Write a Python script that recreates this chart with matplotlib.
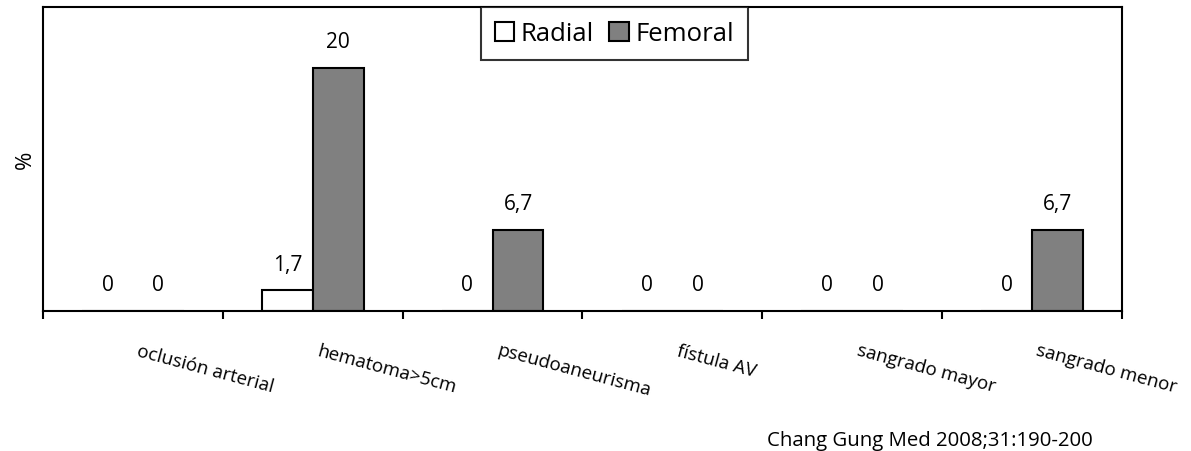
import matplotlib
matplotlib.use("Agg")
import matplotlib.pyplot as plt
import numpy as np

plt.rcParams['font.family'] = ['Open Sans', 'DejaVu Sans']

# Datos
categorias = ['oclusión arterial', 'hematoma>5cm', 'pseudoaneurisma',
              'fístula AV', 'sangrado mayor', 'sangrado menor']
radial = [0, 1.7, 0, 0, 0, 0]
femoral = [0, 20, 6.7, 0, 0, 6.7]
etiquetas_radial = ['0', '1,7', '0', '0', '0', '0']
etiquetas_femoral = ['0', '20', '6,7', '0', '0', '6,7']
fuente = 'Chang Gung Med 2008;31:190-200'

fig = plt.figure(figsize=(11.91, 4.52), dpi=100)
ax = fig.add_axes([43/1191, 1-312/452, (1122-43)/1191, (312-8)/452])

x = np.arange(len(categorias))
w = 0.283
b1 = ax.bar(x - w/2, radial, w, color='white', edgecolor='black', linewidth=1.5, label='Radial')
b2 = ax.bar(x + w/2, femoral, w, color='#808080', edgecolor='black', linewidth=1.5, label='Femoral')

# etiquetas de valores
for bars, labs in [(b1, etiquetas_radial), (b2, etiquetas_femoral)]:
    for r, t in zip(bars, labs):
        ax.annotate(t, (r.get_x() + r.get_width()/2, r.get_height()),
                    xytext=(0, 26), textcoords='offset pixels',
                    ha='center', va='center', fontsize=15)

ax.set_xlim(-0.5, len(categorias) - 0.5)
ax.set_ylim(0, 25)
ax.set_yticks([])
ax.set_xticks(np.arange(len(categorias) + 1) - 0.5)
ax.set_xticklabels([])
ax.tick_params(axis='x', direction='out', length=6, width=1.5)
for s in ax.spines.values():
    s.set_linewidth(1.5)

# categorias rotadas
for i, c in enumerate(categorias):
    ax.annotate(c, (i, 0), xytext=(7, -30), textcoords='offset pixels',
                rotation=-15, rotation_mode='anchor', ha='left', va='top',
                fontsize=13.5)

ax.set_ylabel('%', fontsize=16, labelpad=5)

leg = ax.legend(loc='upper left', bbox_to_anchor=(481/1191, 1-8/452),
                bbox_transform=fig.transFigure, ncol=2, fontsize=18.5,
                frameon=True, fancybox=False, borderaxespad=0,
                handlelength=0.75, handleheight=0.75, handletextpad=0.25,
                columnspacing=0.6, borderpad=0.55)
leg.get_frame().set_edgecolor('black')
leg.get_frame().set_linewidth(1.5)

fig.text(1093/1191, 1-446/452, fuente, ha='right', va='baseline', fontsize=14.7)

plt.savefig('out.png', dpi=100)
